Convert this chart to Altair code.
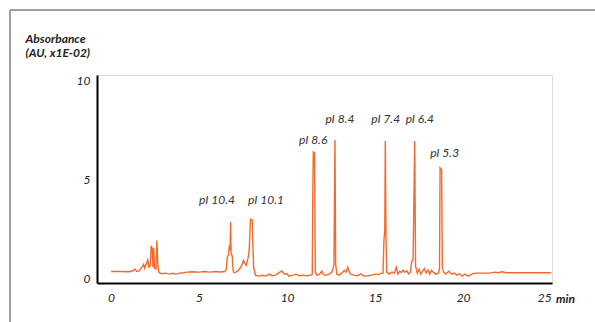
import altair as alt
import pandas as pd

# Chromatogram trace (time in min, absorbance in AU x1E-02)
time_min = [0.0, 0.6, 1.0, 1.2, 1.35, 1.45, 1.6, 1.75, 1.85, 1.9, 2.0, 2.08, 2.15, 2.22, 2.28, 2.33, 2.38, 2.42, 2.47, 2.55, 2.6, 2.66, 2.73,
            2.9, 3.1, 3.3, 3.5, 3.7, 3.9, 4.1, 4.3, 4.6, 5.0, 5.3, 5.6, 5.9, 6.2, 6.45,
            6.55, 6.6, 6.66, 6.72, 6.76, 6.79, 6.82, 6.88, 6.93, 6.98, 7.1, 7.25, 7.4, 7.52, 7.6, 7.68, 7.78, 7.85, 7.92, 8.02, 8.06, 8.1, 8.2,
            8.4, 8.6, 8.8, 9.0, 9.15, 9.35, 9.5, 9.7, 9.85, 10.0, 10.1, 10.3, 10.5, 10.7, 10.9, 11.1, 11.35,
            11.43, 11.46, 11.49, 11.56, 11.6, 11.7, 11.85, 11.97, 12.05, 12.2, 12.4, 12.55, 12.66,
            12.72, 12.76, 12.82, 12.95, 13.1, 13.25, 13.35, 13.45, 13.52, 13.6, 13.8, 14.0, 14.2, 14.35, 14.6, 14.8, 15.0, 15.2, 15.35, 15.45,
            15.5, 15.55, 15.58, 15.62, 15.66, 15.8, 15.95, 16.1, 16.2, 16.3, 16.4, 16.5, 16.6, 16.7, 16.8, 16.9, 17.0, 17.08, 17.16,
            17.25, 17.3, 17.4, 17.5, 17.6, 17.7, 17.8, 17.9, 18.0, 18.1, 18.2, 18.3, 18.45, 18.6, 18.66,
            18.69, 18.78, 18.82, 18.9, 19.0, 19.2, 19.35, 19.5, 19.65, 19.8, 19.95, 20.1, 20.3, 20.5, 20.65, 21.5, 21.8, 22.0, 22.2, 22.4, 22.6, 25.0]
absorbance = [0.33, 0.33, 0.32, 0.36, 0.45, 0.34, 0.38, 0.55, 0.7, 0.5, 0.72, 0.92, 0.55, 0.6, 1.6, 1.55, 0.55, 1.52, 0.5, 0.45, 1.9, 0.6, 0.27,
              0.22, 0.25, 0.2, 0.24, 0.2, 0.25, 0.27, 0.3, 0.32, 0.3, 0.33, 0.3, 0.33, 0.31, 0.33,
              0.45, 1.05, 1.15, 1.65, 1.4, 2.86, 1.2, 1.15, 0.4, 0.27, 0.3, 0.4, 0.6, 0.9, 0.75, 0.65, 1.0, 1.45, 2.98, 2.95, 1.6, 0.55, 0.15,
              0.1, 0.14, 0.1, 0.2, 0.12, 0.15, 0.25, 0.36, 0.2, 0.22, 0.1, 0.14, 0.2, 0.12, 0.15, 0.12, 0.15,
              0.2, 4.3, 6.4, 6.35, 0.3, 0.15, 0.2, 0.35, 0.2, 0.14, 0.2, 0.3, 0.65,
              7.0, 0.7, 0.2, 0.15, 0.25, 0.4, 0.3, 0.55, 0.35, 0.2, 0.15, 0.12, 0.22, 0.1, 0.12, 0.15, 0.2, 0.18, 0.25, 0.25,
              1.9, 2.4, 6.95, 2.0, 0.3, 0.2, 0.3, 0.25, 0.55, 0.2, 0.35, 0.28, 0.4, 0.3, 0.38, 0.2, 0.3, 0.85, 0.95,
              6.95, 0.6, 0.25, 0.45, 0.2, 0.35, 0.48, 0.25, 0.42, 0.2, 0.4, 0.3, 0.2, 0.25, 0.5,
              5.6, 5.5, 0.5, 0.3, 0.2, 0.35, 0.2, 0.25, 0.15, 0.22, 0.1, 0.2, 0.1, 0.2, 0.25, 0.25, 0.3, 0.27, 0.32, 0.28, 0.27, 0.27]

# Peak annotations
peak_labels = ["pI 10.4", "pI 10.1", "pI 8.6", "pI 8.4", "pI 7.4", "pI 6.4", "pI 5.3"]
peak_label_x = [6.02, 8.8, 11.48, 13.0, 15.6, 17.54, 18.95]
peak_label_y = [3.98, 3.98, 7.0, 8.07, 8.07, 8.07, 6.35]

x_ticks = [0, 5, 10, 15, 20, 25]
y_ticks = [0, 5, 10]

trace = pd.DataFrame({"t": time_min, "a": absorbance, "o": list(range(len(time_min)))})
labels = pd.DataFrame({"label": peak_labels, "t": peak_label_x, "a": peak_label_y})

FONT = "Lato"
xscale = alt.Scale(domain=[-0.8, 25.05], nice=False, zero=False)
yscale = alt.Scale(domain=[-0.25, 10.3], nice=False, zero=False)

line = alt.Chart(trace).mark_line(color="#f26a2b", strokeWidth=1.4, clip=True).encode(
    x=alt.X("t:Q", scale=xscale,
            axis=alt.Axis(values=x_ticks, grid=False, ticks=False, domainColor="#000000", domainWidth=2,
                          labelFont=FONT, labelFontStyle="italic", labelFontSize=12, labelColor="#222222",
                          labelPadding=9, title="min", titleFont=FONT, titleFontStyle="italic",
                          titleFontWeight="bold", titleFontSize=12, titleColor="#222222",
                          titleX=468, titleY=15, titleAlign="center", titleBaseline="middle")),
    y=alt.Y("a:Q", scale=yscale,
            axis=alt.Axis(values=y_ticks, grid=False, ticks=False, domainColor="#000000", domainWidth=2,
                          labelFont=FONT, labelFontStyle="italic", labelFontSize=12, labelColor="#222222",
                          labelPadding=7, title=["Absorbance", "(AU, x1E-02)"], titleFont=FONT,
                          titleFontStyle="italic", titleFontWeight="bold", titleFontSize=12,
                          titleColor="#222222", titleAngle=0, titleX=-72, titleY=-42,
                          titleAlign="left", titleBaseline="top", titleLineHeight=14)),
    order="o:Q",
)

text = alt.Chart(labels).mark_text(font=FONT, fontStyle="italic", fontSize=12, color="#333333",
                                   align="center", baseline="middle").encode(
    x=alt.X("t:Q", scale=xscale), y=alt.Y("a:Q", scale=yscale), text="label:N")

frame_top = alt.Chart(labels).mark_rule(color="#a0a0a0", strokeWidth=1.5).encode(
    x=alt.value(-87), x2=alt.value(500), y=alt.value(-65))
frame_left = alt.Chart(labels).mark_rule(color="#a0a0a0", strokeWidth=1.5).encode(
    x=alt.value(-87), y=alt.value(-65), y2=alt.value(250))

chart = alt.layer(frame_top, frame_left, line, text).properties(
    width=455, height=208,
    autosize=alt.AutoSizeParams(type="none"),
    padding={"left": 97, "top": 75, "right": 43, "bottom": 39},
).configure_view(stroke=None).configure(background="white")

chart.save("out.html", embed_options={"renderer": "svg", "actions": False})
